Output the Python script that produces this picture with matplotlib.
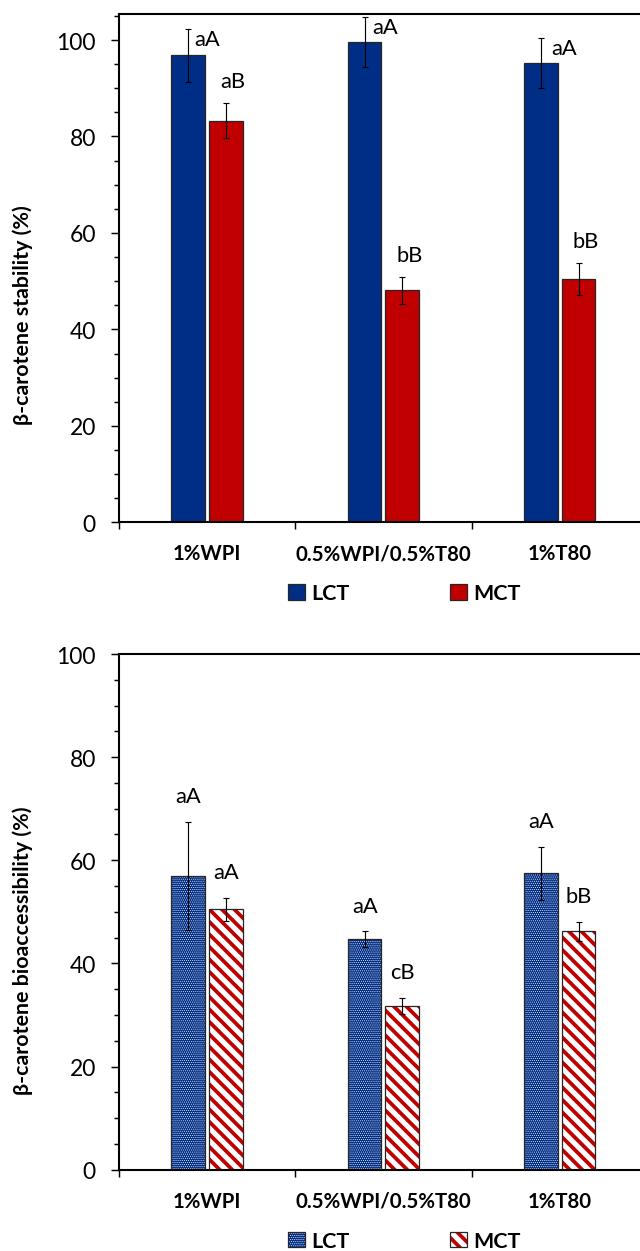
import matplotlib
matplotlib.use("Agg")
import matplotlib.pyplot as plt
import numpy as np
from matplotlib.patches import Patch
from matplotlib.ticker import MultipleLocator, FixedLocator

categories = ["1%WPI", "0.5%WPI/0.5%T80", "1%T80"]
series = ["LCT", "MCT"]

stab_lct = [96.8, 99.6, 95.2]
stab_lct_err = [5.5, 5.1, 5.2]
stab_mct = [83.3, 48.1, 50.4]
stab_mct_err = [3.6, 2.75, 3.3]
stab_lct_lab = ["aA", "aA", "aA"]
stab_mct_lab = ["aB", "bB", "bB"]

bio_lct = [57.0, 44.7, 57.45]
bio_lct_err = [10.45, 1.5, 5.2]
bio_mct = [50.5, 31.7, 46.2]
bio_mct_err = [2.25, 1.55, 1.8]
bio_lct_lab = ["aA", "aA", "aA"]
bio_mct_lab = ["aA", "cB", "bB"]

NAVY = "#002D86"
RED = "#C00000"
EDGE = "#262626"
FONT = ["Lato", "DejaVu Sans"]
plt.rcParams["font.family"] = FONT

DPI = 75
fig = plt.figure(figsize=(640 / DPI, 1252 / DPI), dpi=DPI)

W = 1252.0
def ax_rect(left_px, right_px, top_px, bottom_px):
    return [left_px / 640, (W - bottom_px) / W, (right_px - left_px) / 640, (bottom_px - top_px) / W]

ax1 = fig.add_axes(ax_rect(118.8, 648, 15, 523.3))
ax2 = fig.add_axes(ax_rect(118.8, 648, 655, 1170.7))

x = np.arange(len(categories))
off = 0.1065
bw = 0.19

DOTS = "......"
STRIPES = "\\\\"
DOT_LW = 0.55
STRIPE_LW = 3.6


def hatched_bars(ax, xs, vals, face, hatch, hcolor, hlw):
    with plt.rc_context({"hatch.linewidth": hlw}):
        bars = ax.bar(xs, vals, bw, color=face, edgecolor=hcolor, hatch=hatch,
                      linewidth=0, zorder=2)
        for b in bars:
            if hasattr(b, "set_hatch_linewidth"):
                b.set_hatch_linewidth(hlw)
    ax.bar(xs, vals, bw, fill=False, edgecolor=EDGE, linewidth=1.2, zorder=3)


def style_axes(ax, ymax):
    ax.set_xlim(-0.5, 2.5)
    ax.set_ylim(0, ymax)
    for s in ["left", "bottom", "top", "right"]:
        ax.spines[s].set_linewidth(2.0)
        ax.spines[s].set_color("black")
    ax.yaxis.set_major_locator(FixedLocator([0, 20, 40, 60, 80, 100]))
    ax.yaxis.set_minor_locator(MultipleLocator(5))
    ax.tick_params(axis="y", which="major", direction="out", length=8, width=1.4,
                   labelsize=22, pad=14)
    ax.tick_params(axis="y", which="minor", direction="out", length=5, width=1.4)
    ax.set_xticks(x)
    ax.set_xticklabels(categories, fontsize=19.5, fontweight="bold")
    ax.xaxis.set_minor_locator(FixedLocator([-0.5, 0.5, 1.5, 2.5]))
    ax.tick_params(axis="x", which="major", length=0, pad=20)
    ax.tick_params(axis="x", which="minor", direction="out", length=7, width=1.4)
    ax.set_facecolor("white")


ek = dict(fmt="none", ecolor="black", elinewidth=1.1, capsize=3.2, capthick=1.1, zorder=4)

# ---- Top panel: stability ----
ax1.bar(x - off, stab_lct, bw, color=NAVY, edgecolor=EDGE, linewidth=1.2, zorder=2)
ax1.bar(x + off, stab_mct, bw, color=RED, edgecolor=EDGE, linewidth=1.2, zorder=2)
ax1.errorbar(x - off, stab_lct, yerr=stab_lct_err, **ek)
ax1.errorbar(x + off, stab_mct, yerr=stab_mct_err, **ek)
style_axes(ax1, 105.4)
for i in range(len(categories)):
    ax1.text(x[i] + 0.012 * i, stab_lct[i] + stab_lct_err[i] - 2.0, stab_lct_lab[i],
             ha="center", va="center", fontsize=21)
    ax1.text(x[i] + off + 0.04, stab_mct[i] + stab_mct_err[i] + 4.6, stab_mct_lab[i],
             ha="center", va="center", fontsize=21)

# ---- Bottom panel: bioaccessibility ----
hatched_bars(ax2, x - off, bio_lct, NAVY, DOTS, "white", DOT_LW)
hatched_bars(ax2, x + off, bio_mct, "white", STRIPES, RED, STRIPE_LW)
ax2.errorbar(x - off, bio_lct, yerr=bio_lct_err, **ek)
ax2.errorbar(x + off, bio_mct, yerr=bio_mct_err, **ek)
style_axes(ax2, 100)
for i in range(len(categories)):
    ax2.text(x[i] - off, bio_lct[i] + bio_lct_err[i] + 5.0, bio_lct_lab[i],
             ha="center", va="center", fontsize=21)
    ax2.text(x[i] + off, bio_mct[i] + bio_mct_err[i] + 5.0, bio_mct_lab[i],
             ha="center", va="center", fontsize=21)

# y labels
fig.text(23 / 640, (W - 315) / W, "β-carotene stability (%)", rotation=90,
         ha="center", va="center", fontsize=20.5, fontweight="bold", family=FONT)
fig.text(23 / 640, (W - 951) / W, "β-carotene bioaccessibility (%)", rotation=90,
         ha="center", va="center", fontsize=20.5, fontweight="bold", family=FONT)

# legends (one entry each, so every swatch can keep its own hatch width)
leg_kw = dict(loc="center left", frameon=False, handlelength=0.8, handleheight=0.75,
              handletextpad=0.3, borderpad=0, borderaxespad=0,
              prop={"weight": "bold", "size": 20.5, "family": FONT})
leg_x = [288 / 640, 450 / 640]


def add_legend(handle, label, xpos, ypx, lw=1.0):
    with plt.rc_context({"hatch.linewidth": lw}):
        leg = fig.legend([handle], [label], bbox_to_anchor=(xpos, (W - ypx) / W), **leg_kw)
    return leg


add_legend(Patch(facecolor=NAVY, edgecolor=EDGE, linewidth=1.2), series[0], leg_x[0], 594.5)
add_legend(Patch(facecolor=RED, edgecolor=EDGE, linewidth=1.2), series[1], leg_x[1], 594.5)

with plt.rc_context({"hatch.linewidth": DOT_LW}):
    pl_h = Patch(facecolor=NAVY, edgecolor="white", hatch=DOTS, linewidth=0)
with plt.rc_context({"hatch.linewidth": STRIPE_LW}):
    pm_h = Patch(facecolor="white", edgecolor=RED, hatch=STRIPES, linewidth=0)
ol = Patch(fill=False, edgecolor=EDGE, linewidth=1.2)
om = Patch(fill=False, edgecolor=EDGE, linewidth=1.2)
add_legend((pl_h, ol), series[0], leg_x[0], 1242, DOT_LW)
add_legend((pm_h, om), series[1], leg_x[1], 1242, STRIPE_LW)

fig.savefig("out.png", dpi=DPI, facecolor="white")
